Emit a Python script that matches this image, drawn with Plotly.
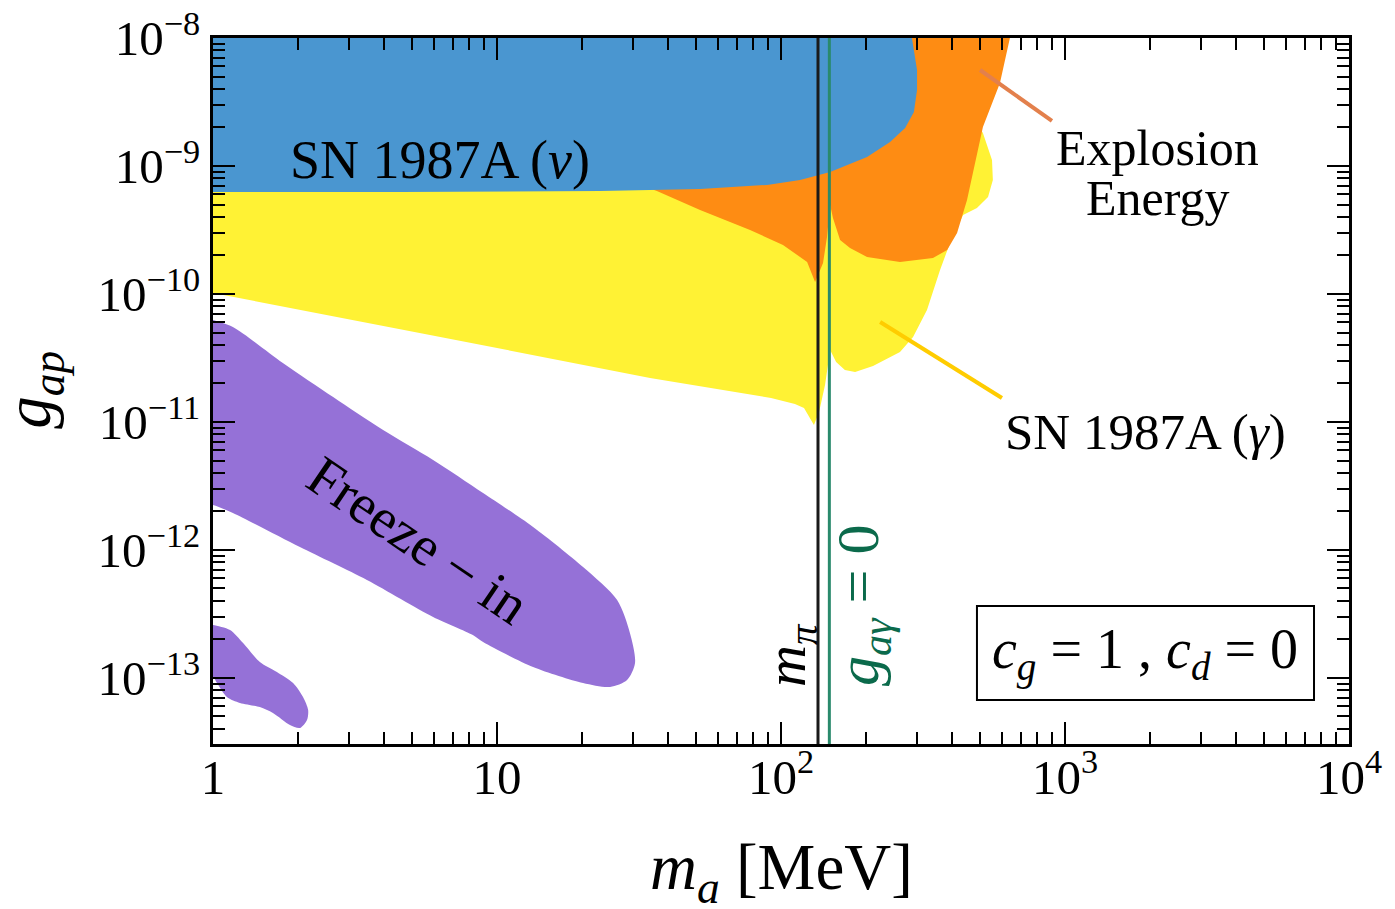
import plotly.graph_objects as go

# Region boundaries in log10 units: x = log10(m_a / MeV), y = log10(g_ap)
sn_nu_logm = [0.0, 2.461, 2.479, 2.479, 2.468, 2.437, 2.384, 2.303, 2.173, 2.067, 1.951, 1.715, 1.363, 0.658, 0.0]
sn_nu_logg = [-8.0, -8.0, -8.25, -8.406, -8.578, -8.703, -8.813, -8.930, -9.047, -9.109, -9.148, -9.180, -9.195, -9.203, -9.203]

explosion_logm = [2.349, 2.806, 2.771, 2.711, 2.655, 2.620, 2.585, 2.535, 2.419, 2.303, 2.243, 2.208, 2.183, 2.173,
                  2.162, 2.148, 2.120, 2.092, 2.007, 1.891, 1.715, 1.563, 1.504, 2.067, 2.349]
explosion_logg = [-8.0, -8.0, -8.352, -8.695, -9.266, -9.523, -9.656, -9.719, -9.750, -9.711, -9.641, -9.578, -9.406, -9.305,
                  -9.555, -9.758, -9.906, -9.750, -9.617, -9.5, -9.344, -9.195, -9.148, -9.031, -8.484]

sn_gamma_logm = [0.0, 0.0, 0.764, 1.539, 1.965, 2.049, 2.081, 2.116, 2.134, 2.155, 2.173, 2.194, 2.225, 2.261, 2.324,
                 2.419, 2.465, 2.514, 2.560, 2.595, 2.641, 2.690, 2.729, 2.746, 2.743, 2.711, 2.665, 2.419, 1.363]
sn_gamma_logg = [-9.109, -9.992, -10.320, -10.656, -10.813, -10.859, -10.891, -11.023, -10.922, -10.711, -10.438, -10.531,
                 -10.594, -10.609, -10.563, -10.453, -10.336, -10.125, -9.813, -9.602, -9.383, -9.328, -9.242, -9.109,
                 -8.953, -8.742, -8.563, -8.875, -9.109]

# Freeze-in bands start slightly left of m_a = 1 MeV so the smoothed outline stays square at the axis
freeze_in_logm = [-0.03, 0.0, 0.070, 0.246, 0.423, 0.599, 0.775, 0.951, 1.127, 1.303, 1.423, 1.468, 1.486, 1.458, 1.398,
                  1.303, 1.127, 0.951, 0.915, 0.775, 0.542, 0.306, 0.070, 0.0, -0.03]
freeze_in_logg = [-10.19, -10.203, -10.258, -10.539, -10.805, -11.063, -11.297, -11.555, -11.820, -12.133, -12.391,
                  -12.648, -12.883, -13.016, -13.070, -13.039, -12.914, -12.719, -12.664, -12.523, -12.234, -11.977,
                  -11.711, -11.648, -11.64]

freeze_in_low_logm = [-0.03, 0.0, 0.060, 0.106, 0.165, 0.225, 0.282, 0.317, 0.335, 0.331, 0.306, 0.271, 0.211, 0.165,
                      0.095, 0.049, 0.014, 0.0, -0.03]
freeze_in_low_logg = [-12.58, -12.586, -12.625, -12.727, -12.875, -12.953, -13.039, -13.148, -13.250, -13.328, -13.391,
                      -13.367, -13.273, -13.227, -13.195, -13.148, -13.039, -12.992, -12.99]

# Reference masses (MeV)
m_pion = 134.98
m_gag_zero = 148.0

# Label leader lines (log10 units)
explosion_leader_logm = [2.701, 2.954]
explosion_leader_logg = [-8.25, -8.648]
gamma_leader_logm = [2.349, 2.778]
gamma_leader_logg = [-10.219, -10.813]

x_range_log = [0.0, 4.0]
y_range_log = [-13.516, -8.0]
x_major = [1, 10, 100, 1000, 10000]
x_major_text = ["1", "10", "10<sup>2</sup>", "10<sup>3</sup>", "10<sup>4</sup>"]
y_major = [1e-13, 1e-12, 1e-11, 1e-10, 1e-9, 1e-8]
y_major_text = ["10<sup>\u221213</sup>", "10<sup>\u221212</sup>", "10<sup>\u221211</sup>",
                "10<sup>\u221210</sup>", "10<sup>\u22129</sup>", "10<sup>\u22128</sup>"]

BLUE = "#4a96d0"
ORANGE = "#fe8c13"
YELLOW = "#fff234"
PURPLE = "#9571d7"
SERIF = "Liberation Serif, Times New Roman, DejaVu Serif, serif"


def lin(vals):
    return [10 ** v for v in vals]


def region(logm, logg, color, smooth=False):
    line = dict(width=0, color=color)
    if smooth:
        line.update(shape="spline", smoothing=0.8)
    return go.Scatter(x=lin(logm), y=lin(logg), mode="lines", fill="toself",
                      fillcolor=color, line=line, hoverinfo="skip", showlegend=False)


fig = go.Figure()
fig.add_trace(region(sn_gamma_logm, sn_gamma_logg, YELLOW))
fig.add_trace(region(explosion_logm, explosion_logg, ORANGE))
fig.add_trace(region(sn_nu_logm, sn_nu_logg, BLUE))
fig.add_trace(region(freeze_in_logm, freeze_in_logg, PURPLE, smooth=True))
fig.add_trace(region(freeze_in_low_logm, freeze_in_low_logg, PURPLE, smooth=True))

g_span = [10 ** y_range_log[0], 10 ** y_range_log[1]]
fig.add_trace(go.Scatter(x=[m_pion, m_pion], y=g_span, mode="lines",
                         line=dict(color="#1a1a1a", width=3), showlegend=False, hoverinfo="skip"))
fig.add_trace(go.Scatter(x=[m_gag_zero, m_gag_zero], y=g_span, mode="lines",
                         line=dict(color="#2a8a6c", width=3), showlegend=False, hoverinfo="skip"))

fig.add_trace(go.Scatter(x=lin(explosion_leader_logm), y=lin(explosion_leader_logg), mode="lines",
                         line=dict(color="#e3804c", width=4), showlegend=False, hoverinfo="skip"))
fig.add_trace(go.Scatter(x=lin(gamma_leader_logm), y=lin(gamma_leader_logg), mode="lines",
                         line=dict(color="#ffcc00", width=4), showlegend=False, hoverinfo="skip"))

minor_x = [k * 10 ** n for n in range(0, 4) for k in range(2, 10)]
minor_y = [k * 10.0 ** n for n in range(-14, -8) for k in range(2, 10)]

axis_common = dict(
    type="log", showgrid=False, zeroline=False, automargin=False,
    showline=True, linecolor="black", linewidth=3, mirror="ticks",
    ticks="inside", ticklen=22, tickwidth=2, tickcolor="black",
    tickfont=dict(family=SERIF, size=49, color="black"),
    tickmode="array",
)

fig.update_xaxes(range=x_range_log, tickvals=x_major, ticktext=x_major_text,
                 minor=dict(tickmode="array", tickvals=minor_x, ticks="inside", ticklen=12,
                            tickwidth=2, tickcolor="black", showgrid=False),
                 ticklabelstandoff=-12, **axis_common)
fig.update_yaxes(range=y_range_log, tickvals=y_major, ticktext=y_major_text,
                 minor=dict(tickmode="array", tickvals=minor_y, ticks="inside", ticklen=12,
                            tickwidth=2, tickcolor="black", showgrid=False),
                 ticklabelstandoff=0, **axis_common)

annotations = [
    dict(x=0.799, y=-8.953, text="SN 1987A (<i>\u03bd</i>)", font=dict(size=54)),
    dict(x=3.324, y=-8.859, text="Explosion", font=dict(size=50)),
    dict(x=3.324, y=-9.25, text="Energy", font=dict(size=50)),
    dict(x=3.282, y=-11.078, text="SN 1987A (<i>\u03b3</i>)", font=dict(size=51)),
    dict(x=0.722, y=-11.922, text="Freeze \u2212 in", font=dict(size=56), textangle=34),
    dict(x=2.032, y=-12.82, text="<i>m</i><sub><i>\u03c0</i></sub>", font=dict(size=58), textangle=-90),
    dict(x=2.285, y=-12.43, text="<i>g</i><sub><i>a\u03b3</i></sub> = 0",
         font=dict(size=60, color="#0b6a4b"), textangle=-90),
    dict(x=3.282, y=-12.805, text="<i>c</i><sub><i>g</i></sub> = 1 , <i>c</i><sub><i>d</i></sub> = 0",
         font=dict(size=56)),
]
for a in annotations:
    a.setdefault("xref", "x")
    a.setdefault("yref", "y")
    a["showarrow"] = False
    a["xanchor"] = "center"
    a["yanchor"] = "middle"
    f = a["font"]
    f.setdefault("family", SERIF)
    f.setdefault("color", "black")
    fig.add_annotation(**a)

# Axis titles
fig.add_annotation(xref="paper", yref="paper", x=0.5, y=-0.182, showarrow=False,
                   xanchor="center", yanchor="middle",
                   text="<i>m</i><sub><i>a</i></sub> [MeV]",
                   font=dict(family=SERIF, size=65, color="black"))
fig.add_annotation(xref="paper", yref="paper", x=-0.158, y=0.501, showarrow=False, textangle=-90,
                   xanchor="center", yanchor="middle",
                   text="<i>g</i><sub><i>ap</i></sub>",
                   font=dict(family=SERIF, size=65, color="black"))

# Parameter box
fig.add_shape(type="rect", xref="paper", yref="paper", x0=0.6725, x1=0.9692, y0=0.0623, y1=0.1955,
              line=dict(color="black", width=2), fillcolor="white", layer="below")

fig.update_layout(
    width=1395, height=909,
    margin=dict(l=213, r=46, t=38, b=165),
    plot_bgcolor="white", paper_bgcolor="white",
    showlegend=False,
)

fig.write_html("out.html")
